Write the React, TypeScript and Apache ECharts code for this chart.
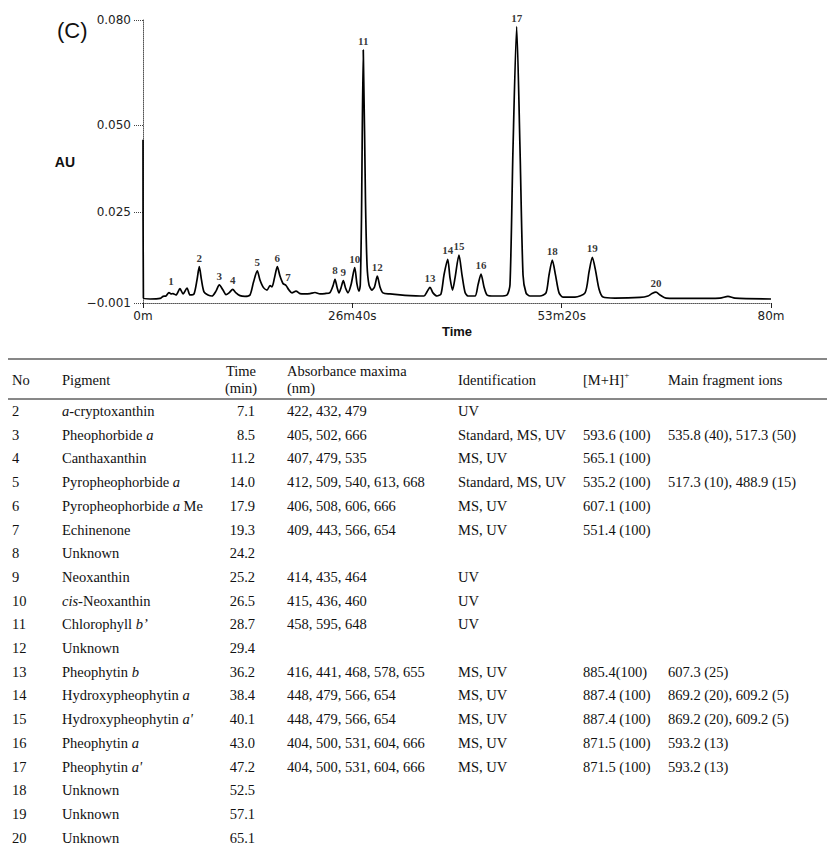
import React, { useEffect, useRef } from "react";
import * as echarts from "echarts";

// ---- Chromatogram trace (time in minutes, absorbance in AU) ----
const traceTimes = [
  0, 0.05, 0.9, 2.17, 2.55, 2.93, 3.31, 3.57, 3.82, 4.2, 4.71, 5.1, 5.61, 5.99, 6.5, 6.88, 7.17, 7.45, 7.77,
  8.28, 8.79, 9.3, 9.72, 10.19, 10.57, 10.96, 11.43, 11.85, 12.36, 12.99, 13.63, 14.08, 14.56, 14.9, 15.35,
  15.8, 16.18, 16.43, 16.75, 17.11, 17.45, 17.83, 18.22, 18.6, 18.98, 19.49, 20.0, 20.64, 21.27, 21.91, 22.55,
  23.18, 23.82, 24.2, 24.46, 24.71, 24.97, 25.22, 25.52, 25.8, 26.11, 26.5, 26.97, 27.26, 27.52, 27.68, 27.83,
  28.06, 28.34, 28.54, 28.79, 29.17, 29.49, 29.85, 30.19, 30.57, 31.46, 32.74, 34.01, 35.29, 35.8, 36.18,
  36.56, 36.94, 37.45, 37.96, 38.34, 38.82, 39.11, 39.43, 39.75, 40.25, 40.64, 41.02, 41.4, 42.29, 42.68,
  43.06, 43.44, 43.82, 44.46, 45.48, 46.37, 46.75, 47.13, 47.6, 48.03, 48.41, 48.79, 49.3, 50.57, 51.34,
  51.72, 52.14, 52.55, 53.0, 53.5, 55.03, 56.31, 56.82, 57.24, 57.64, 58.09, 58.6, 60.13, 63.31, 64.33,
  64.84, 65.35, 65.86, 66.62, 69.68, 73.5, 74.52, 75.41, 80,
];
const traceAU = [
  0.0457, 0.0004, 0.00015, 0.0003, 0.0009, 0.001, 0.002, 0.0016, 0.0017, 0.0013, 0.0031, 0.0016, 0.0033,
  0.0013, 0.0016, 0.0056, 0.0094, 0.0056, 0.0022, 0.0013, 0.001, 0.0024, 0.0042, 0.0027, 0.0014, 0.0019,
  0.0029, 0.0019, 0.0011, 0.0009, 0.0013, 0.005, 0.0082, 0.0056, 0.0034, 0.0027, 0.004, 0.0036, 0.0062,
  0.0094, 0.0067, 0.0046, 0.004, 0.0027, 0.0019, 0.0024, 0.0017, 0.0016, 0.0017, 0.002, 0.0016, 0.0017,
  0.002, 0.0039, 0.0058, 0.0036, 0.0019, 0.0033, 0.0054, 0.0033, 0.0019, 0.0042, 0.0091, 0.0044, 0.0024,
  0.0042, 0.0228, 0.0714, 0.0285, 0.0099, 0.0042, 0.0027, 0.0036, 0.0067, 0.0036, 0.0019, 0.0016, 0.0013,
  0.0011, 0.001, 0.001, 0.0022, 0.0035, 0.0019, 0.001, 0.0016, 0.007, 0.0115, 0.0062, 0.0027, 0.0062,
  0.0127, 0.007, 0.0021, 0.001, 0.001, 0.0042, 0.0073, 0.0036, 0.0013, 0.001, 0.001, 0.0013, 0.0042,
  0.0428, 0.0781, 0.0428, 0.007, 0.0019, 0.001, 0.001, 0.0019, 0.007, 0.0113, 0.007, 0.0019, 0.0007,
  0.0007, 0.0019, 0.0079, 0.0121, 0.0084, 0.003, 0.0007, 0.0004, 0.0006, 0.001, 0.0017, 0.0021, 0.0013,
  0.0004, 0.0003, 0.0004, 0.0009, 0.0004, 0.00015,
];

// ---- Peak numbers and the point each label sits above ----
const peakIds = ["1", "2", "3", "4", "5", "6", "7", "8", "9", "10", "11", "12", "13", "14", "15", "16", "17", "18", "19", "20"];
const peakTimes = [3.57, 7.17, 9.72, 11.43, 14.56, 17.11, 18.47, 24.46, 25.52, 26.97, 28.06, 29.85, 36.56, 38.82, 40.25, 43.06, 47.6, 52.14, 57.24, 65.35];
const peakAU = [0.0027, 0.0094, 0.0042, 0.0029, 0.0082, 0.0094, 0.004, 0.0058, 0.0054, 0.0091, 0.0714, 0.0067, 0.0035, 0.0115, 0.0127, 0.0073, 0.0781, 0.0113, 0.0121, 0.0021];

// ---- Axis ticks ----
const xTickValues = [0, 80 / 3, 160 / 3, 80];
const xTickLabels = ["0m", "26m40s", "53m20s", "80m"];
const yTickValues = [-0.001, 0.025, 0.05, 0.08];
const yTickLabels = ["\u22120.001", "0.025", "0.050", "0.080"];

// ---- Table ----
const tableNo = ["2", "3", "4", "5", "6", "7", "8", "9", "10", "11", "12", "13", "14", "15", "16", "17", "18", "19", "20"];
const tablePigment = [
  "{i|a}-cryptoxanthin", "Pheophorbide {i|a}", "Canthaxanthin", "Pyropheophorbide {i|a}", "Pyropheophorbide {i|a} Me",
  "Echinenone", "Unknown", "Neoxanthin", "{i|cis}-Neoxanthin", "Chlorophyll {i|b\u2019}", "Unknown", "Pheophytin {i|b}",
  "Hydroxypheophytin {i|a}", "Hydroxypheophytin {i|a'}", "Pheophytin {i|a}", "Pheophytin {i|a'}", "Unknown", "Unknown", "Unknown",
];
const tableTime = ["7.1", "8.5", "11.2", "14.0", "17.9", "19.3", "24.2", "25.2", "26.5", "28.7", "29.4", "36.2", "38.4", "40.1", "43.0", "47.2", "52.5", "57.1", "65.1"];
const tableAbsorbance = [
  "422, 432, 479", "405, 502, 666", "407, 479, 535", "412, 509, 540, 613, 668", "406, 508, 606, 666", "409, 443, 566, 654",
  "", "414, 435, 464", "415, 436, 460", "458, 595, 648", "", "416, 441, 468, 578, 655", "448, 479, 566, 654",
  "448, 479, 566, 654", "404, 500, 531, 604, 666", "404, 500, 531, 604, 666", "", "", "",
];
const tableIdentification = [
  "UV", "Standard, MS, UV", "MS, UV", "Standard, MS, UV", "MS, UV", "MS, UV", "", "UV", "UV", "UV", "",
  "MS, UV", "MS, UV", "MS, UV", "MS, UV", "MS, UV", "", "", "",
];
const tableMH = [
  "", "593.6 (100)", "565.1 (100)", "535.2 (100)", "607.1 (100)", "551.4 (100)", "", "", "", "", "",
  "885.4(100)", "887.4 (100)", "887.4 (100)", "871.5 (100)", "871.5 (100)", "", "", "",
];
const tableFragments = [
  "", "535.8 (40), 517.3 (50)", "", "517.3 (10), 488.9 (15)", "", "", "", "", "", "", "",
  "607.3 (25)", "869.2 (20), 609.2 (5)", "869.2 (20), 609.2 (5)", "593.2 (13)", "593.2 (13)", "", "", "",
];

const SERIF = "'Liberation Serif', 'Times New Roman', serif";
const SANS = "'DejaVu Sans', sans-serif";
const ARIAL = "'Liberation Sans', Arial, sans-serif";
const TFS = 14.5;

function txt(text: string, x: number, y: number, align: string, extra: any = {}) {
  return {
    type: "text",
    x,
    y,
    silent: true,
    style: {
      text,
      fill: "#111",
      fontFamily: SERIF,
      fontSize: TFS,
      align,
      textAlign: align,
      verticalAlign: "middle",
      textVerticalAlign: "middle",
      rich: {
        i: { fontStyle: "italic", fontFamily: SERIF, fontSize: TFS, fill: "#111" },
      },
      ...extra,
    },
  };
}

export default function App() {
  const ref = useRef<HTMLDivElement>(null);
  useEffect(() => {
    if (!ref.current) return;
    const chart = echarts.init(ref.current, null, { renderer: "svg" });

    const col = { no: 12, pig: 62, timeR: 255, timeC: 241, abs: 287, id: 458, mh: 583, frag: 668 };
    const rowY0 = 411;
    const rowStep = 23.7;

    const graphics: any[] = [];
    graphics.push({
      type: "text",
      x: 57,
      y: 30,
      style: { text: "(C)", fill: "#111", fontFamily: ARIAL, fontSize: 22, verticalAlign: "middle", textVerticalAlign: "middle" },
    });
    // rules
    graphics.push({ type: "line", shape: { x1: 8, y1: 359, x2: 827, y2: 359 }, style: { stroke: "#111", lineWidth: 1.2 } });
    graphics.push({ type: "line", shape: { x1: 8, y1: 399, x2: 827, y2: 399 }, style: { stroke: "#111", lineWidth: 1 } });
    // header
    graphics.push(txt("No", col.no, 380, "left"));
    graphics.push(txt("Pigment", col.pig, 380, "left"));
    graphics.push(txt("Time", col.timeC, 371, "center"));
    graphics.push(txt("(min)", col.timeC, 388, "center"));
    graphics.push(txt("Absorbance maxima", col.abs, 371, "left"));
    graphics.push(txt("(nm)", col.abs, 388, "left"));
    graphics.push(txt("Identification", col.id, 380, "left"));
    graphics.push(
      txt("[M+H]{sup|+}", col.mh, 380, "left", {
        rich: { sup: { fontSize: 9, fontFamily: SERIF, fill: "#111", verticalAlign: "top", lineHeight: 20 } },
        lineHeight: 20,
      })
    );
    graphics.push(txt("Main fragment ions", col.frag, 380, "left"));

    tableNo.forEach((no, i) => {
      const y = rowY0 + i * rowStep;
      graphics.push(txt(no, col.no, y, "left"));
      graphics.push(txt(tablePigment[i], col.pig, y, "left"));
      graphics.push(txt(tableTime[i], col.timeR, y, "right"));
      if (tableAbsorbance[i]) graphics.push(txt(tableAbsorbance[i], col.abs, y, "left"));
      if (tableIdentification[i]) graphics.push(txt(tableIdentification[i], col.id, y, "left"));
      if (tableMH[i]) graphics.push(txt(tableMH[i], col.mh, y, "left"));
      if (tableFragments[i]) graphics.push(txt(tableFragments[i], col.frag, y, "left"));
    });

    const findLabel = (vals: number[], labels: string[], v: number) => {
      for (let k = 0; k < vals.length; k++) if (Math.abs(vals[k] - v) < 1e-6) return labels[k];
      return "";
    };

    chart.setOption({
      animation: false,
      backgroundColor: "#fff",
      grid: { left: 143, top: 20, width: 628, height: 283, containLabel: false },
      xAxis: {
        type: "value",
        min: 0,
        max: 80,
        name: "Time",
        nameLocation: "middle",
        nameGap: 22,
        nameTextStyle: { fontFamily: ARIAL, fontWeight: "bold", fontSize: 13, color: "#111" },
        axisLine: { show: true, onZero: false, lineStyle: { color: "#555", width: 1, type: "dotted" } },
        axisTick: { show: true, length: 5, customValues: xTickValues, lineStyle: { color: "#222", width: 1 } },
        axisLabel: {
          customValues: xTickValues,
          margin: 7,
          fontFamily: SANS,
          fontSize: 12,
          color: "#222",
          formatter: (v: number) => findLabel(xTickValues, xTickLabels, v),
        },
        splitLine: { show: false },
      },
      yAxis: {
        type: "value",
        min: -0.001,
        max: 0.08,
        name: "AU",
        nameLocation: "middle",
        nameRotate: 0,
        nameGap: 68,
        nameTextStyle: { fontFamily: ARIAL, fontWeight: "bold", fontSize: 14, color: "#111" },
        axisLine: { show: true, onZero: false, lineStyle: { color: "#555", width: 1, type: "dotted" } },
        axisTick: { show: true, length: 10, customValues: yTickValues, lineStyle: { color: "#444", width: 1, type: "dotted" } },
        axisLabel: {
          customValues: yTickValues,
          margin: 12,
          fontFamily: SANS,
          fontSize: 12,
          color: "#222",
          formatter: (v: number) => findLabel(yTickValues, yTickLabels, v),
        },
        splitLine: { show: false },
      },
      series: [
        {
          type: "line",
          data: traceTimes.map((t, i) => [t, traceAU[i]]),
          showSymbol: false,
          symbol: "none",
          smooth: 0.25,
          lineStyle: { color: "#000", width: 1.7, join: "round" },
          silent: true,
          z: 3,
        },
        {
          type: "scatter",
          data: peakTimes.map((t, i) => [t, peakAU[i]]),
          symbolSize: 1,
          itemStyle: { color: "rgba(0,0,0,0)" },
          silent: true,
          label: {
            show: true,
            position: "top",
            distance: 3,
            formatter: (p: any) => peakIds[p.dataIndex],
            fontFamily: SERIF,
            fontWeight: "bold",
            fontSize: 11,
            color: "#000",
          },
          z: 4,
        },
      ],
      graphic: graphics,
    });
    return () => chart.dispose();
  }, []);
  return <div ref={ref} style={{ position: "absolute", left: 0, top: 0, width: 827, height: 850, background: "#fff" }} />;
}
